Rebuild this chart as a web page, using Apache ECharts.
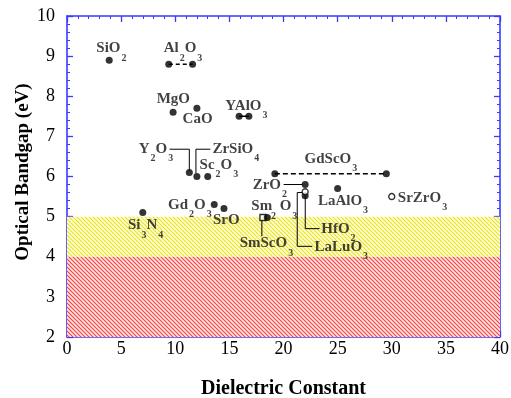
<!DOCTYPE html>
<html>
<head>
<meta charset="utf-8">
<script src="https://cdn.jsdelivr.net/npm/echarts@6/dist/echarts.min.js"></script>
<style>
html,body{margin:0;padding:0;background:#fff;}
#c{width:511px;height:398px;}
</style>
</head>
<body>
<div id="c"></div>
<script>
// ---- data ----
const filledNames = ['SiO2','Al2O3','Al2O3','MgO','CaO','YAlO3','YAlO3','Y2O3','ZrSiO4','Sc2O3','ZrO2','HfO2','LaAlO3','GdScO3','GdScO3','Si3N4','Gd2O3','SrO','Sm2O3'];
const filledK  = [3.9, 9.4, 11.6, 9.8, 12.0, 15.9, 16.8, 11.3, 12.0, 13.0, 22.0, 22.0, 25.0, 19.2, 29.5, 7.0, 13.6, 14.5, 18.5];
const filledEg = [8.9, 8.8, 8.8, 7.6, 7.7, 7.5, 7.5, 6.1, 6.0, 6.0, 5.8, 5.52, 5.7, 6.07, 6.07, 5.1, 5.3, 5.2, 4.98];
const openCircleNames = ['LaLuO3','SrZrO3'];
const openCircleK  = [22.0, 30.0];
const openCircleEg = [5.62, 5.5];
const openSquareNames = ['SmScO3'];
const openSquareK  = [18.1];
const openSquareEg = [4.98];
// ranges (same material, two reported values)
const al2o3K = [9.4, 11.6], al2o3Eg = [8.8, 8.8];
const yalo3K = [15.9, 16.8], yalo3Eg = [7.5, 7.5];
const gdsco3K = [19.2, 29.5], gdsco3Eg = [6.07, 6.07];
// shaded bands (eV)
const bandYellow = [4, 5];
const bandRed = [2, 4];
// axis ticks
const xTicks = [0,5,10,15,20,25,30,35,40];
const yTicks = [2,3,4,5,6,7,8,9,10];
const xTitle = 'Dielectric Constant';
const yTitle = 'Optical Bandgap (eV)';
// labels: text ("_n" = subscript), anchor in data units
const labelText = ['SiO_2','Al_2O_3','MgO','CaO','YAlO_3','Y_2O_3','ZrSiO_4','Sc_2O_3','ZrO_2','GdScO_3','LaAlO_3','SrZrO_3','HfO_2','LaLuO_3','Gd_2O_3','SrO','Si_3N_4','Sm\u2002O_3','_2','SmScO_3'];
const labelX = [2.71, 8.93, 8.28, 10.68, 14.63, 6.62, 13.43, 12.25, 17.15, 21.95, 23.18, 30.56, 23.49, 22.87, 9.33, 13.48, 5.63, 17.03, 18.75, 15.95];
const labelY = [9.19, 9.19, 7.92, 7.42, 7.75, 6.68, 6.68, 6.28, 5.78, 6.44, 5.39, 5.47, 4.70, 4.24, 5.28, 4.92, 4.78, 5.25, 5.25, 4.33];
// leader lines (data units)
const leaders = [
  [[9.48,6.68],[11.30,6.68],[11.30,6.15]],
  [[11.91,6.08],[11.91,6.68],[13.24,6.68]],
  [[20.01,5.80],[21.76,5.80]],
  [[22.01,5.53],[22.01,4.70],[23.33,4.70]],
  [[21.76,5.60],[21.27,5.60],[21.27,4.26],[22.66,4.26]],
  [[18.0,4.91],[18.0,4.51]]
];

// ---- helpers ----
function toRich(t){
  let out=''; let i=0; let buf='';
  while(i<t.length){
    if(t[i]==='_'){ if(buf){out+='{m|'+buf+'}';buf='';} out+='{s|'+t[i+1]+'}'; i+=2; }
    else { buf+=t[i]; i++; }
  }
  if(buf) out+='{m|'+buf+'}';
  return out;
}
function hatch(color, step, bg){
  const c=document.createElement('canvas'); c.width=c.height=step;
  const g=c.getContext('2d');
  g.fillStyle=bg; g.fillRect(0,0,step,step);
  g.strokeStyle=color; g.lineWidth=1.2;
  g.beginPath(); g.moveTo(-1,-1); g.lineTo(step+1,step+1);
  g.moveTo(-1,step-1); g.lineTo(1,step+1);
  g.moveTo(step-1,-1); g.lineTo(step+1,1);
  g.stroke();
  return c;
}
const zip=(a,b)=>a.map((v,i)=>[v,b[i]]);

const chart = echarts.init(document.getElementById('c'));
const AX='#3a3aff';
const serif='Liberation Serif';
const axisCommon = {
  axisLine:{show:true,onZero:false,lineStyle:{color:AX,width:1.6}},
  axisTick:{show:true,inside:true,length:6,lineStyle:{color:AX,width:1.3}},
  minorTick:{show:true,splitNumber:5,length:3,lineStyle:{color:AX,width:1}},
  splitLine:{show:false}
};
const labelSeriesData = labelText.map((t,i)=>({
  value:[labelX[i],labelY[i]],
  label:{formatter:toRich(t), offset:[0, t.indexOf('_')>=0 ? 3.5 : 0]}
}));
const leaderSeries = leaders.map(l=>({type:'line',data:l,symbol:'none',silent:true,z:3,
  lineStyle:{color:'#000',width:1},xAxisIndex:0,yAxisIndex:0}));

chart.setOption({
  animation:false,
  backgroundColor:'#fff',
  grid:{left:67,right:11,top:16,bottom:61,containLabel:false,outerBoundsMode:'none'},
  graphic:[{type:'text',x:23,y:172,rotation:Math.PI/2,
    style:{text:yTitle,fontFamily:serif,fontWeight:'bold',fontSize:19,fill:'#000',
      align:'center',verticalAlign:'middle'}}],
  xAxis:[
    Object.assign({type:'value',min:0,max:40,interval:5,position:'bottom',
      name:xTitle,nameLocation:'middle',nameGap:42,
      nameTextStyle:{fontFamily:serif,fontWeight:'bold',fontSize:20,color:'#000'},
      axisLabel:{fontFamily:serif,fontSize:18,color:'#000',margin:3}},axisCommon),
    Object.assign({type:'value',min:0,max:40,interval:5,position:'top',axisLabel:{show:false}},axisCommon)
  ],
  yAxis:[
    Object.assign({type:'value',min:2,max:10,interval:1,position:'left',
      axisLabel:{fontFamily:serif,fontSize:18,color:'#000',margin:12}},axisCommon),
    Object.assign({type:'value',min:2,max:10,interval:1,position:'right',axisLabel:{show:false}},axisCommon)
  ],
  series:[
    {type:'line',data:[],silent:true,z:1,
      markArea:{silent:true,data:[
        [{xAxis:0,yAxis:bandRed[0],itemStyle:{color:{image:hatch('#f04848',4,'#ffe4e4'),repeat:'repeat'}}},{xAxis:40,yAxis:bandRed[1]}],
        [{xAxis:0,yAxis:bandYellow[0],itemStyle:{color:{image:hatch('#e8e420',4,'#fffde0'),repeat:'repeat'}}},{xAxis:40,yAxis:bandYellow[1]}]
      ]}},
    {type:'line',data:zip(al2o3K,al2o3Eg),symbol:'none',z:3,lineStyle:{color:'#000',width:1.5,type:[4,3]}},
    {type:'line',data:zip(yalo3K,yalo3Eg),symbol:'none',z:3,lineStyle:{color:'#000',width:1.5}},
    {type:'line',data:zip(gdsco3K,gdsco3Eg),symbol:'none',z:3,lineStyle:{color:'#000',width:1.5,type:[5,3]}},
    ...leaderSeries,
    {type:'scatter',name:'filled',data:zip(filledK,filledEg),symbol:'circle',symbolSize:7,z:5,
      itemStyle:{color:'#000'}},
    {type:'scatter',name:'open',data:zip(openCircleK,openCircleEg),symbol:'circle',symbolSize:6,z:6,
      itemStyle:{color:'#fff',borderColor:'#000',borderWidth:1.4}},
    {type:'scatter',name:'openSq',data:zip(openSquareK,openSquareEg),symbol:'rect',symbolSize:6,z:4,
      itemStyle:{color:'#fff',borderColor:'#000',borderWidth:1.4}},
    {type:'scatter',name:'labels',data:labelSeriesData,symbolSize:0,z:7,silent:true,
      label:{show:true,position:'right',distance:0,
        rich:{
          m:{fontFamily:serif,fontWeight:'bold',fontSize:15,color:'#111',verticalAlign:'top'},
          s:{fontFamily:serif,fontWeight:'bold',fontSize:10,color:'#111',verticalAlign:'top',padding:[12,0,0,1]}
        }}}
  ]
});
</script>
</body>
</html>
